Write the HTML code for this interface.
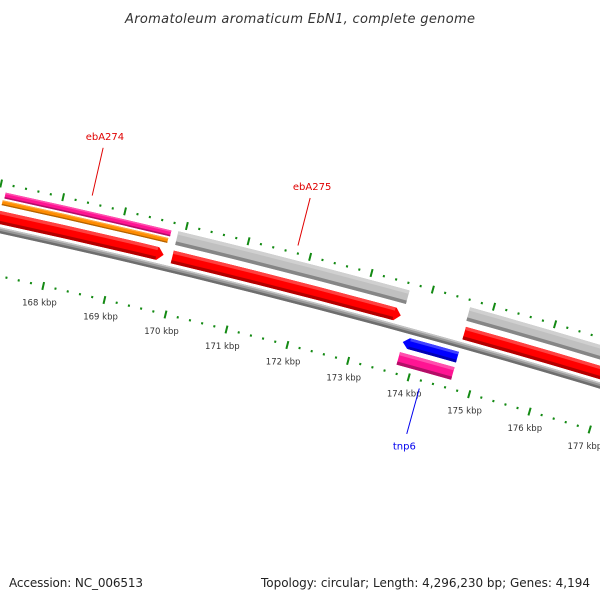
<!DOCTYPE html>
<html><head><meta charset="utf-8"><style>
html,body{margin:0;padding:0;background:#fff;}
svg{display:block;}
text{font-family:"DejaVu Sans","Liberation Sans",sans-serif;}
</style></head><body>
<svg id="map" width="600" height="600" viewBox="0 0 600 600" xmlns="http://www.w3.org/2000/svg">
<rect x="0" y="0" width="600" height="600" fill="#fff"/>
<text x="300" y="23" text-anchor="middle" font-size="13" font-style="italic" fill="#333" textLength="350">Aromatoleum aromaticum EbN1, complete genome</text>
<g id="ticks"></g>
<g id="backbone"></g>
<g id="features"></g>
<g id="labels"></g>
<text x="9" y="587" font-size="12" fill="#222" textLength="134">Accession: NC_006513</text>
<text x="590" y="587" font-size="12" fill="#222" text-anchor="end" textLength="329">Topology: circular; Length: 4,296,230 bp; Genes: 4,194</text>
</svg>
<script>
// data (kbp positions)
const featNames = ['ebA273-cds','ebA274-ring1','ebA274-ring2','ebA275-cds','ebA275-ring','cds-next','next-ring','tnp6-cds','tnp6-ring'];
const featStart = [165.0, 167.10, 167.08, 169.89, 169.89, 174.66, 174.64, 173.76, 173.76];
const featEnd   = [169.75,169.78, 169.76, 173.62, 173.65, 179.0, 179.0, 174.66, 174.66];
const featRing  = [0, 3, 2, 0, 1, 0, 1, -1, -2];
const featArrow = [1, 0, 0, 1, 0, 1, 0, -1, 0];
const featColor = ['#ff0000','#ff1493','#ff8c00','#ff0000','#c0c0c0','#ff0000','#c0c0c0','#0000ff','#ff1493'];
const labelText = ['ebA274','ebA275','tnp6'];
const labelPos  = [168.44, 171.77, 174.21];
const labelColor= ['#e00000','#e00000','#0000ee'];
const labelSide = [1, 1, -1];
const tickStart = 164, tickEnd = 180;

// geometry
const CX=-1703, CY=8049, PHI0=12.677, DEG_PER_KBP=0.4522;
const ringR1 = {0:8008, 1:8027, 2:8027, 3:8034, '-1':7984, '-2':7966};
const ringR2 = {0:8021, 1:8041, 2:8032, 3:8040, '-1':7995, '-2':7979};
const NS='http://www.w3.org/2000/svg';
function phi(k){return PHI0+(k-168)*DEG_PER_KBP;}
function pt(r,a){const t=a*Math.PI/180;return [CX+r*Math.sin(t), CY-r*Math.cos(t)];}
function P(p){return p[0].toFixed(2)+' '+p[1].toFixed(2);}
function mk(tag,attrs,parent){const e=document.createElementNS(NS,tag);for(const k in attrs)e.setAttribute(k,attrs[k]);parent.appendChild(e);return e;}
function band(r1,r2,a1,a2,arrow){
  const d=6/(r2*Math.PI/180);
  let s='';
  if(arrow===1){
    const b=a2-d, m=(r1+r2)/2;
    s='M'+P(pt(r2,a1))+' A'+r2+' '+r2+' 0 0 1 '+P(pt(r2,b))+' L'+P(pt(m,a2))+' L'+P(pt(r1,b))+' A'+r1+' '+r1+' 0 0 0 '+P(pt(r1,a1))+' Z';
  } else if(arrow===-1){
    const b=a1+d, m=(r1+r2)/2;
    s='M'+P(pt(m,a1))+' L'+P(pt(r2,b))+' A'+r2+' '+r2+' 0 0 1 '+P(pt(r2,a2))+' L'+P(pt(r1,a2))+' A'+r1+' '+r1+' 0 0 0 '+P(pt(r1,b))+' Z';
  } else {
    s='M'+P(pt(r2,a1))+' A'+r2+' '+r2+' 0 0 1 '+P(pt(r2,a2))+' L'+P(pt(r1,a2))+' A'+r1+' '+r1+' 0 0 0 '+P(pt(r1,a1))+' Z';
  }
  return s;
}
function shade(c,f){const n=parseInt(c.slice(1),16);let r=n>>16,g=(n>>8)&255,b=n&255;
  if(f<0){r*=1+f;g*=1+f;b*=1+f;}else{r+=(255-r)*f;g+=(255-g)*f;b+=(255-b)*f;}
  return 'rgb('+Math.round(r)+','+Math.round(g)+','+Math.round(b)+')';}

// backbone
const bb=document.getElementById('backbone');
let e=mk('path',{d:band(7999,8005,phi(164),phi(180),0),fill:'#999'},bb);


e=mk('path',{d:band(7999,8001.5,phi(164),phi(180),0),fill:'#6e6e6e'},bb);


e=mk('path',{d:band(8003.5,8005,phi(164),phi(180),0),fill:'#c4c4c4'},bb);



// features
const fg=document.getElementById('features');
for(let i=0;i<featNames.length;i++){
  const r1=ringR1[featRing[i]], r2=ringR2[featRing[i]];
  const a1=phi(featStart[i]), a2=phi(featEnd[i]);
  const g=mk('g',{},fg);
  
  
  mk('path',{d:band(r1,r2,a1,a2,featArrow[i]),fill:featColor[i]},g);
  const h=(r2-r1)*0.25, d=7/(r2*Math.PI/180);
  const b1=featArrow[i]===-1?a1+d:a1, b2=featArrow[i]===1?a2-d:a2;
  mk('path',{d:band(r1,r1+h,b1,b2,0),fill:shade(featColor[i],-0.3)},g);
  mk('path',{d:band(r2-h,r2,b1,b2,0),fill:shade(featColor[i],0.25)},g);
}

// ticks
const tg=document.getElementById('ticks');
for(let i=tickStart*5;i<=tickEnd*5;i++){
  const k=i/5, a=phi(k), major=(i%5===0);
  [7957,8048].forEach(function(r,ri){
    const p1=pt(major?r-4:r-1,a), p2=pt(major?r+4:r+1.2,a);
    const l=mk('line',{x1:p1[0],y1:p1[1],x2:p2[0],y2:p2[1],stroke:'#138a13','stroke-width':2},tg);
    
    
  });
  if(major){
    const p=pt(7940,a);
    const t=mk('text',{x:p[0],y:p[1]+3,'text-anchor':'middle','font-size':'8.5',fill:'#333'},tg);
    t.textContent=k+' kbp';
    
    
  }
}

// labels
const lg=document.getElementById('labels');
for(let i=0;i<labelText.length;i++){
  const a=phi(labelPos[i]);
  const rA=labelSide[i]>0?8056:7949, rB=labelSide[i]>0?8105:7902, rT=labelSide[i]>0?8113:7893;
  const p1=pt(rA,a), p2=pt(rB,a), pt3=pt(rT,a);
  const l=mk('line',{x1:p1[0],y1:p1[1],x2:p2[0],y2:p2[1],stroke:labelColor[i],'stroke-width':1},lg);
  
  
  const t=mk('text',{x:pt3[0],y:pt3[1]+(labelSide[i]>0?0:7),'text-anchor':'middle','font-size':'10',fill:labelColor[i]},lg);
  t.textContent=labelText[i];
  
  
}
</script>
</body></html>
